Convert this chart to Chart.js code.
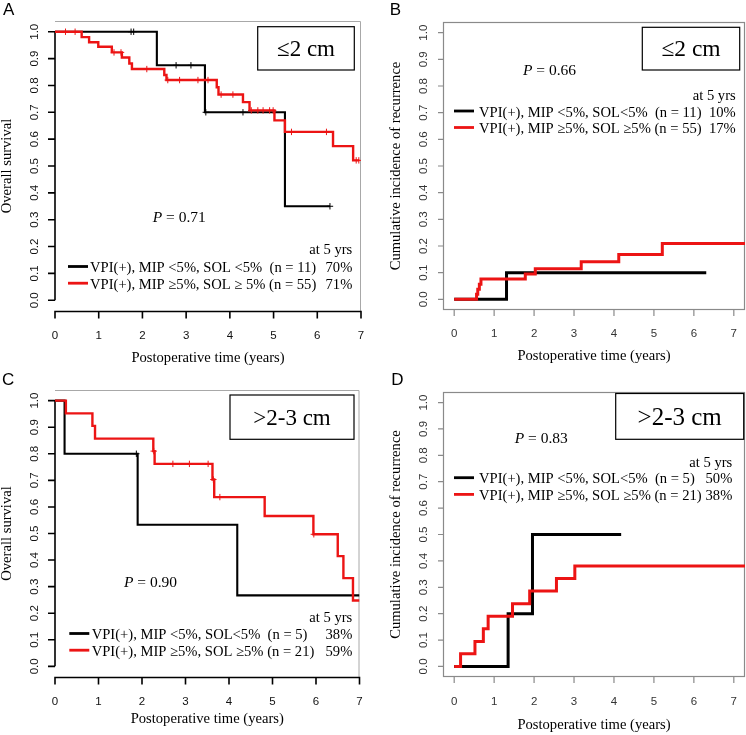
<!DOCTYPE html>
<html><head><meta charset="utf-8">
<script src="https://cdn.jsdelivr.net/npm/chart.js@4.4.1/dist/chart.umd.min.js"></script>
<style>
html,body{margin:0;padding:0;background:#fff;}
#wrap{position:relative;width:746px;height:735px;overflow:hidden;background:#fff;}
canvas{position:absolute;}
</style></head><body>
<div id="wrap">
<canvas id="cA" width="373" height="368" style="left:0;top:0;width:373px;height:368px"></canvas>
<canvas id="cB" width="373" height="368" style="left:373px;top:0;width:373px;height:368px"></canvas>
<canvas id="cC" width="373" height="367" style="left:0;top:368px;width:373px;height:367px"></canvas>
<canvas id="cD" width="373" height="367" style="left:373px;top:368px;width:373px;height:367px"></canvas>
</div>
<script>
// ---------- tick labels ----------
const xTickValues = [0, 1, 2, 3, 4, 5, 6, 7];
const yTickValues = [0.0, 0.1, 0.2, 0.3, 0.4, 0.5, 0.6, 0.7, 0.8, 0.9, 1.0];

// ---------- Panel A: overall survival, <=2 cm ----------
const aTimeBlack = [0, 2.33, 3.43, 5.26, 6.29];
const aSurvBlack = [1.0, 0.875, 0.700, 0.350, 0.350];
const aCensBlack = [1.74, 1.80, 2.77, 3.11, 3.45, 4.30, 6.29];
const aTimeRed = [0, 0.61, 0.78, 0.99, 1.30, 1.53, 1.70, 1.76, 2.50, 2.55, 3.70, 3.74, 4.30, 4.45, 5.02, 5.26, 6.36, 6.82, 6.96];
const aSurvRed = [1.0, 0.980, 0.961, 0.944, 0.923, 0.904, 0.882, 0.861, 0.839, 0.820, 0.793, 0.766, 0.738, 0.707, 0.670, 0.627, 0.574, 0.521, 0.521];
const aCensRed = [0.24, 0.46, 1.35, 1.51, 2.10, 2.58, 2.85, 3.27, 3.50, 3.80, 4.07, 4.49, 4.64, 4.76, 4.91, 4.99, 5.41, 6.21, 6.89, 6.95];

// ---------- Panel B: cumulative incidence of recurrence, <=2 cm ----------
const bTimeBlack = [0, 1.31, 6.31];
const bIncBlack = [0, 0.100, 0.100];
const bTimeRed = [0, 0.56, 0.59, 0.63, 0.67, 1.78, 2.03, 3.18, 4.12, 5.21, 7.30];
const bIncRed = [0, 0.019, 0.038, 0.057, 0.076, 0.095, 0.115, 0.141, 0.168, 0.209, 0.209];

// ---------- Panel C: overall survival, >2-3 cm ----------
const cTimeBlack = [0, 0.22, 1.90, 4.19, 7.0];
const cSurvBlack = [1.0, 0.800, 0.533, 0.267, 0.267];
const cCensBlack = [1.87];
const cTimeRed = [0, 0.25, 0.86, 0.92, 2.26, 2.29, 3.62, 3.66, 4.82, 5.94, 6.50, 6.63, 6.85, 7.0];
const cSurvRed = [1.0, 0.952, 0.905, 0.857, 0.810, 0.762, 0.703, 0.637, 0.566, 0.497, 0.415, 0.332, 0.248, 0.248];
const cCensRed = [2.27, 2.71, 3.09, 3.52, 3.64, 3.79, 5.95];

// ---------- Panel D: cumulative incidence of recurrence, >2-3 cm ----------
const dTimeBlack = [0, 1.35, 1.96, 4.18];
const dIncBlack = [0, 0.200, 0.500, 0.500];
const dTimeRed = [0, 0.16, 0.52, 0.73, 0.85, 1.46, 1.89, 2.56, 3.02, 7.30];
const dIncRed = [0, 0.048, 0.095, 0.143, 0.190, 0.238, 0.286, 0.333, 0.381, 0.381];

// ---------- texts ----------
const aLegend = ['VPI(+), MIP <5%, SOL <5%  (n = 11)', 'VPI(+), MIP \u22655%, SOL \u2265 5% (n = 55)'];
const aPct = ['70%', '71%'];
const bLegend = ['VPI(+), MIP <5%, SOL<5%  (n = 11)', 'VPI(+), MIP \u22655%, SOL \u22655% (n = 55)'];
const bPct = ['10%', '17%'];
const cLegend = ['VPI(+), MIP <5%, SOL<5%  (n = 5)', 'VPI(+), MIP \u22655%, SOL \u22655% (n = 21)'];
const cPct = ['38%', '59%'];
const dLegend = ['VPI(+), MIP <5%, SOL<5%  (n = 5)', 'VPI(+), MIP \u22655%, SOL \u22655% (n = 21)'];
const dPct = ['50%', '38%'];
const pValues = ['0.71', '0.66', '0.90', '0.83'];

const SERIF = "'Liberation Serif','Times New Roman',Times,serif";
const SANS = "'Liberation Sans',Arial,Helvetica,sans-serif";
const RED = 'rgb(236,20,20)';

function stepValue(times, vals, t) {
  let v = vals[0];
  for (let i = 0; i < times.length; i++) { if (times[i] <= t) v = vals[i]; }
  return v;
}
function pts(times, vals) { return times.map((t, i) => ({x: t, y: vals[i]})); }
function censPts(cens, times, vals) { return cens.map(t => ({x: t, y: stepValue(times, vals, t)})); }

function decor(P) {
  return {
    id: 'decor' + P.letter,
    beforeDatasetsDraw(chart) {
      const ctx = chart.ctx, a = chart.chartArea;
      const xs = chart.scales.x, ys = chart.scales.y;
      ctx.save();
      ctx.lineCap = 'butt';
      if (P.frame === 'axes') {
        ctx.strokeStyle = '#a8a8a8'; ctx.lineWidth = 1;
        ctx.beginPath();
        ctx.moveTo(a.left, a.top + 0.5); ctx.lineTo(a.right - 0.5, a.top + 0.5); ctx.lineTo(a.right - 0.5, a.bottom);
        ctx.stroke();
        ctx.strokeStyle = '#000'; ctx.lineWidth = 1.6;
        ctx.beginPath();
        ctx.moveTo(a.left, ys.getPixelForValue(yTickValues[0]));
        ctx.lineTo(a.left, ys.getPixelForValue(yTickValues[yTickValues.length - 1]));
        yTickValues.forEach(v => { const py = ys.getPixelForValue(v); ctx.moveTo(a.left, py); ctx.lineTo(a.left - 7, py); });
        const by = a.bottom + 0.5;
        ctx.moveTo(xs.getPixelForValue(xTickValues[0]) - 0.8, by);
        ctx.lineTo(xs.getPixelForValue(xTickValues[xTickValues.length - 1]) + 0.8, by);
        xTickValues.forEach(v => { const px = xs.getPixelForValue(v); ctx.moveTo(px, by); ctx.lineTo(px, by + 7); });
        ctx.stroke();
      } else {
        ctx.strokeStyle = '#8a8a8a'; ctx.lineWidth = 1.2;
        ctx.strokeRect(a.left + 0.5, a.top + 0.5, a.right - a.left - 1, a.bottom - a.top - 1);
        ctx.beginPath();
        yTickValues.forEach(v => { const py = ys.getPixelForValue(v); ctx.moveTo(a.left, py); ctx.lineTo(a.left - 5, py); });
        xTickValues.forEach(v => { const px = xs.getPixelForValue(v); ctx.moveTo(px, a.bottom); ctx.lineTo(px, a.bottom + 6); });
        ctx.stroke();
      }
      ctx.restore();
    },
    afterDraw(chart) {
      const ctx = chart.ctx;
      ctx.save();
      ctx.fillStyle = '#000';
      ctx.textBaseline = 'alphabetic';
      ctx.font = '17px ' + SANS; ctx.textAlign = 'left';
      ctx.fillText(P.letter, P.letterX, P.letterY);
      const b = P.box;
      ctx.strokeStyle = '#000'; ctx.lineWidth = 1.2;
      ctx.strokeRect(b.x0, b.y0, b.x1 - b.x0, b.y1 - b.y0);
      ctx.font = b.size + 'px ' + SERIF; ctx.textAlign = 'center';
      ctx.fillText(b.text, (b.x0 + b.x1) / 2, (b.y0 + b.y1) / 2 + 0.33 * b.size);
      ctx.textAlign = 'left';
      ctx.font = 'italic 15.5px ' + SERIF;
      ctx.fillText('P', P.p.x, P.p.y);
      const w = ctx.measureText('P').width;
      ctx.font = '15.5px ' + SERIF;
      ctx.fillText(' = ' + P.p.value, P.p.x + w, P.p.y);
      const L = P.legend;
      ctx.font = '14.6px ' + SERIF;
      ctx.textAlign = 'right';
      ctx.fillText('at 5 yrs', L.right, L.atY);
      L.rows.forEach(r => {
        ctx.strokeStyle = r.color; ctx.lineWidth = 2.8;
        ctx.beginPath(); ctx.moveTo(L.sx0, r.y - 5.5); ctx.lineTo(L.sx1, r.y - 5.5); ctx.stroke();
        ctx.fillStyle = '#000';
        ctx.textAlign = 'left'; ctx.fillText(r.text, L.textX, r.y);
        ctx.textAlign = 'right'; ctx.fillText(r.pct, L.right, r.y);
      });
      ctx.restore();
    }
  };
}

function makePanel(P) {
  const datasets = [];
  P.cens.forEach(c => datasets.push({type: 'scatter', data: c.data, showLine: false, pointStyle: 'cross',
    pointRadius: 3.2, borderColor: c.color, backgroundColor: c.color, borderWidth: 1, order: 0}));
  P.curves.forEach((c, i) => datasets.push({type: 'line', data: c.data, borderColor: c.color, borderWidth: c.width,
    stepped: 'before', pointRadius: 0, fill: false, tension: 0, borderCapStyle: 'butt', borderJoinStyle: 'miter', order: 1 + i}));
  new Chart(document.getElementById(P.canvas), {
    type: 'line',
    data: {datasets},
    options: {
      responsive: false, animation: false, devicePixelRatio: 1, events: [],
      layout: {padding: {left: 0, right: P.rightPad, top: P.topPad, bottom: 0}},
      plugins: {legend: {display: false}, tooltip: {enabled: false}},
      scales: {
        x: {
          type: 'linear', min: P.xMin, max: P.xMax,
          afterBuildTicks: s => { s.ticks = xTickValues.map(v => ({value: v})); },
          afterFit: s => { s.height = P.xHeight; s.paddingLeft = 0; s.paddingRight = 0; s.paddingTop = 0; s.paddingBottom = 0; },
          grid: {display: false, drawTicks: false},
          border: {display: false},
          ticks: {autoSkip: false, maxRotation: 0, minRotation: 0, padding: P.xTickPad,
            font: {family: SANS, size: 11.5}, color: P.tickColor, callback: v => Number(v).toFixed(0)},
          title: {display: true, text: 'Postoperative time (years)', color: '#000',
            font: {family: SERIF, size: 14.6, lineHeight: 1.2}, padding: {top: 0, bottom: P.xTitlePad}}
        },
        y: {
          type: 'linear', min: -0.04, max: 1.04,
          afterBuildTicks: s => { s.ticks = yTickValues.map(v => ({value: v})); },
          afterFit: s => { s.width = P.yWidth; s.paddingLeft = 0; s.paddingRight = 0; s.paddingTop = 0; s.paddingBottom = 0; },
          grid: {display: false, drawTicks: false},
          border: {display: false},
          ticks: {autoSkip: false, minRotation: 90, maxRotation: 90, crossAlign: 'center', padding: P.yTickPad,
            font: {family: SANS, size: 11.5}, color: P.tickColor, callback: v => Number(v).toFixed(1)},
          title: {display: true, text: P.yTitle, color: '#000',
            font: {family: SERIF, size: 14.6, lineHeight: 1.0}, padding: {top: P.yTitlePad, bottom: 0}}
        }
      }
    },
    plugins: [decor(P)]
  });
}

makePanel({
  canvas: 'cA', letter: 'A', letterX: 3, letterY: 15, frame: 'axes',
  xMin: 0, xMax: 7, yWidth: 55, rightPad: 12, topPad: 21, xHeight: 57,
  xTickPad: 18.2, xTitlePad: 1.2, yTickPad: 11.7, yTitlePad: 0, tickColor: '#111',
  yTitle: 'Overall survival',
  curves: [{data: pts(aTimeRed, aSurvRed), color: RED, width: 2.4},
           {data: pts(aTimeBlack, aSurvBlack), color: '#000', width: 2.1}],
  cens: [{data: censPts(aCensRed, aTimeRed, aSurvRed), color: RED},
         {data: censPts(aCensBlack, aTimeBlack, aSurvBlack), color: '#000'}],
  box: {x0: 257.7, y0: 26.7, x1: 354.3, y1: 70, text: '\u22642 cm', size: 23},
  p: {x: 152.7, y: 221.5, value: pValues[0]},
  legend: {right: 352.3, atY: 254, sx0: 68, sx1: 88, textX: 90,
    rows: [{color: '#000', text: aLegend[0], pct: aPct[0], y: 272},
           {color: RED, text: aLegend[1], pct: aPct[1], y: 288.7}]}
});

makePanel({
  canvas: 'cB', letter: 'B', letterX: 16.7, letterY: 15, frame: 'box',
  xMin: -0.28, xMax: 7.28, yWidth: 70, rightPad: 1, topPad: 22, xHeight: 58,
  xTickPad: 17, xTitlePad: 2.8, yTickPad: 11.5, yTitlePad: 16, tickColor: '#333',
  yTitle: 'Cumulative incidence of recurrence',
  curves: [{data: pts(bTimeRed, bIncRed), color: RED, width: 3},
           {data: pts(bTimeBlack, bIncBlack), color: '#000', width: 3}],
  cens: [],
  box: {x0: 269.3, y0: 27.3, x1: 366.7, y1: 70, text: '\u22642 cm', size: 23.5},
  p: {x: 150, y: 75, value: pValues[1]},
  legend: {right: 362.7, atY: 100, sx0: 81, sx1: 101, textX: 106,
    rows: [{color: '#000', text: bLegend[0], pct: bPct[0], y: 116.5},
           {color: RED, text: bLegend[1], pct: bPct[1], y: 133}]}
});

makePanel({
  canvas: 'cC', letter: 'C', letterX: 2, letterY: 17, frame: 'axes',
  xMin: 0, xMax: 7, yWidth: 55, rightPad: 13.5, topPad: 22, xHeight: 58,
  xTickPad: 17.5, xTitlePad: 7.5, yTickPad: 11.7, yTitlePad: 0, tickColor: '#111',
  yTitle: 'Overall survival',
  curves: [{data: pts(cTimeRed, cSurvRed), color: RED, width: 2.4},
           {data: pts(cTimeBlack, cSurvBlack), color: '#000', width: 2.1}],
  cens: [{data: censPts(cCensRed, cTimeRed, cSurvRed), color: RED},
         {data: censPts(cCensBlack, cTimeBlack, cSurvBlack), color: '#000'}],
  box: {x0: 230, y0: 27, x1: 354, y1: 71.3, text: '>2-3 cm', size: 23},
  p: {x: 124, y: 218.7, value: pValues[2]},
  legend: {right: 352.3, atY: 253.6, sx0: 69.3, sx1: 89.3, textX: 91.7,
    rows: [{color: '#000', text: cLegend[0], pct: cPct[0], y: 271},
           {color: RED, text: cLegend[1], pct: cPct[1], y: 287.7}]}
});

makePanel({
  canvas: 'cD', letter: 'D', letterX: 18.3, letterY: 17, frame: 'box',
  xMin: -0.28, xMax: 7.28, yWidth: 70, rightPad: 1, topPad: 24, xHeight: 58,
  xTickPad: 18.2, xTitlePad: 1.5, yTickPad: 11.2, yTitlePad: 16, tickColor: '#333',
  yTitle: 'Cumulative incidence of recurrence',
  curves: [{data: pts(dTimeRed, dIncRed), color: RED, width: 3},
           {data: pts(dTimeBlack, dIncBlack), color: '#000', width: 3}],
  cens: [],
  box: {x0: 242.7, y0: 25.5, x1: 370.7, y1: 71.3, text: '>2-3 cm', size: 25},
  p: {x: 141.7, y: 75.3, value: pValues[3]},
  legend: {right: 359.3, atY: 98.6, sx0: 81, sx1: 101, textX: 106,
    rows: [{color: '#000', text: dLegend[0], pct: dPct[0], y: 115.2},
           {color: RED, text: dLegend[1], pct: dPct[1], y: 131.9}]}
});
</script>
</body></html>
